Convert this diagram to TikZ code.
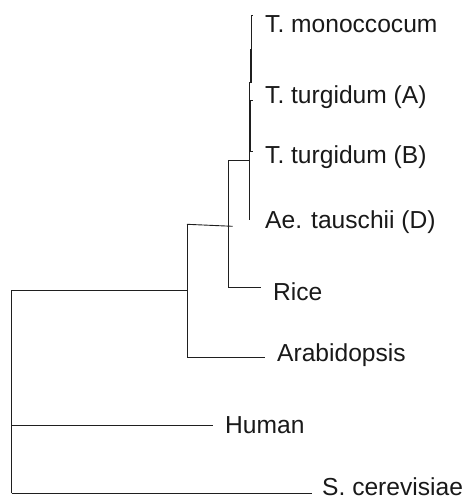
\documentclass[tikz,border=0pt]{standalone}
\usepackage{fontspec}
\setmainfont{Liberation Sans}
\begin{document}
\begin{tikzpicture}[x=1pt,y=-1pt,
  branch/.style={draw=black!88,line width=0.9pt},
  thickbr/.style={draw=black!88,line width=1.5pt},
  leaf/.style={anchor=base west,inner sep=0pt,font=\fontsize{24.6}{28}\selectfont,text=black!90}]
\useasboundingbox (0,0) rectangle (467,501);
% labels
\node[leaf] (tm) at (265,32) {T. monoccocum};
\node[leaf] (ta) at (265,103) {T. turgidum (A)};
\node[leaf] (tb) at (265,163) {T. turgidum (B)};
\node[leaf] (ae) at (265,228) {Ae. tauschii (D)};
\node[leaf] (ri) at (273,300.5) {Rice};
\node[leaf] (ar) at (277,361) {Arabidopsis};
\node[leaf] (hu) at (225,433) {Human};
\node[leaf] (sc) at (322,495.5) {S. cerevisiae};
% tree coordinates
\coordinate (root) at (11.7,290.7);
\coordinate (rootb) at (11.7,493.3);
\coordinate (huroot) at (11.7,425);
\coordinate (huend) at (212.7,425);
\coordinate (scend) at (311.7,493.3);
\coordinate (pl) at (187,290.7);
\coordinate (pltop) at (187,224.3);
\coordinate (arbot) at (187,357);
\coordinate (arend) at (265,357);
\coordinate (gr) at (232.7,226.3);
\coordinate (grtop) at (228.3,160);
\coordinate (ribot) at (228.3,287.7);
\coordinate (riend) at (260.7,287.7);
\coordinate (wh) at (249.3,160);
\coordinate (whtop) at (249.3,82.7);
\coordinate (whbot) at (249.3,220);
% root
\draw[branch] (rootb) -- (root) -- (pl);
\draw[branch] (huroot) -- (huend);
\draw[branch] (rootb) -- (scend);
% plants
\draw[branch] (pltop) -- (arbot) -- (arend);
\draw[branch] (pltop) -- (gr);
\draw[branch] (grtop) -- (ribot) -- (riend);
\draw[branch] (grtop) -- (wh);
\draw[branch] (whtop) -- (whbot);
% wheat brackets
\draw[branch] (252.7,15) -- (251,15) -- (251,82.7) -- (whtop);
\draw[thickbr] (251,49) -- (251,82.7);
\draw[branch] (249.3,100) -- (253,100);
\draw[thickbr] (250.3,100) -- (250.3,151.7);
\draw[branch] (250.3,151.7) -- (253,151.7);
\end{tikzpicture}
\end{document}
